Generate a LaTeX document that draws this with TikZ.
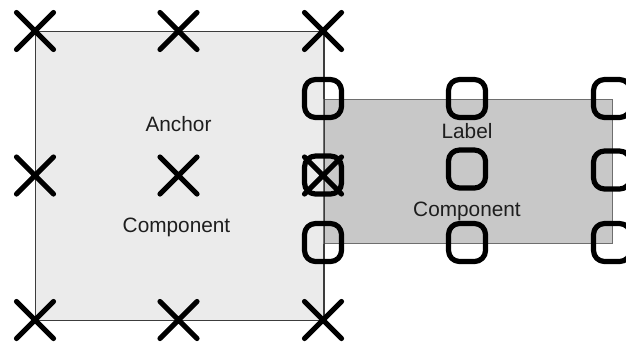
\documentclass[tikz,border=0pt]{standalone}
\usepackage{fontspec}
\setmainfont{Liberation Sans}
\definecolor{bigfill}{HTML}{EBEBEB}
\definecolor{smallfill}{HTML}{C8C8C8}
\definecolor{bigborder}{HTML}{3C3C3C}
\definecolor{smallborder}{HTML}{6E6E6E}
\definecolor{txt}{HTML}{1E1E1E}
\tikzset{
  markline/.style={line width=2.6pt, line cap=round, line join=round, black},
  xmark/.pic={\draw[markline] (-18.5,-18.5) -- (18.5,18.5) (-18.5,18.5) -- (18.5,-18.5);},
  omark/.pic={\draw[markline, rounded corners=5.5pt] (-18.5,-19) rectangle (18.5,19);},
  lbl/.style={font=\fontsize{10.4}{12}\selectfont, text=txt, inner sep=0pt, anchor=base},
}
\begin{document}
\begin{tikzpicture}[x=0.5pt, y=-0.5pt]
\useasboundingbox (0,0) rectangle (626,343);
% Component (anchor) box
\node[draw=bigborder, fill=bigfill, line width=0.6pt, minimum width=144pt, minimum height=144.5pt, inner sep=0pt, anchor=north west] (comp) at (35,31) {};
% Label box
\node[draw=smallborder, fill=smallfill, line width=0.6pt, minimum width=144.5pt, minimum height=72pt, inner sep=0pt, anchor=north west] (label) at (323,98.5) {};
\draw[bigborder, line width=0.6pt] (comp.north east) -- (comp.south east);
% texts
\node[lbl] (tanchor) at (178.5,131) {Anchor};
\node[lbl] (tcomp1) at (176.5,232) {Component};
\node[lbl] (tlabel) at (467,138) {Label};
\node[lbl] (tcomp2) at (467,216) {Component};
% X marks at component anchors
\pic at (35,31) {xmark};
\pic at (178.5,31) {xmark};
\pic at (323,31) {xmark};
\pic at (35,175.5) {xmark};
\pic at (178.5,175.5) {xmark};
\pic at (323,175.5) {xmark};
\pic at (35,320) {xmark};
\pic at (178.5,320) {xmark};
\pic at (323,320) {xmark};
% O marks at label anchors
\pic at (323,98.5) {omark};
\pic at (467,98.5) {omark};
\pic at (612,98.5) {omark};
\pic at (323,175) {omark};
\pic at (467,169) {omark};
\pic at (612,170) {omark};
\pic at (323,242.5) {omark};
\pic at (467,242.5) {omark};
\pic at (612,242.5) {omark};
\end{tikzpicture}
\end{document}
